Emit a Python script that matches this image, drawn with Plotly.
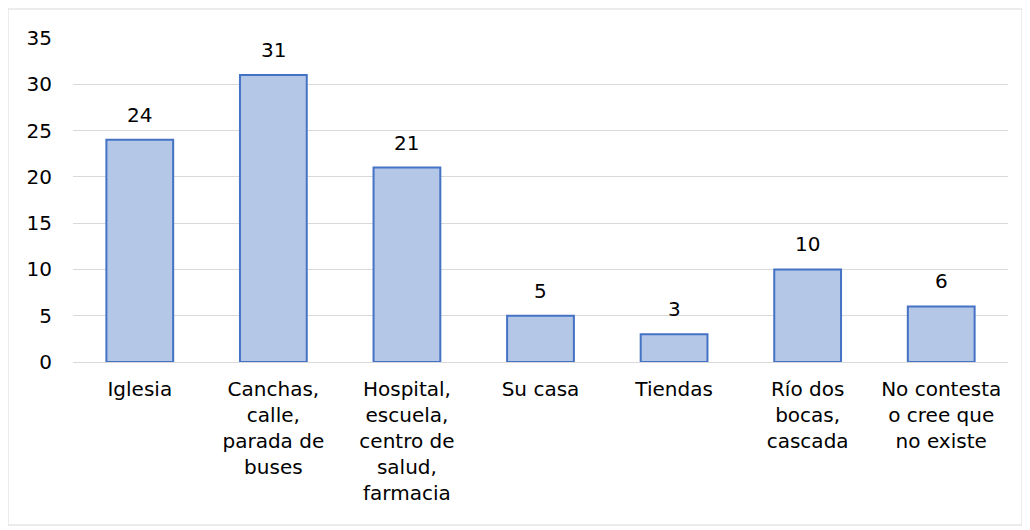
import plotly.graph_objects as go

categories = ["Iglesia", "Canchas,<br>calle,<br>parada de<br>buses", "Hospital,<br>escuela,<br>centro de<br>salud,<br>farmacia",
              "Su casa", "Tiendas", "Río dos<br>bocas,<br>cascada", "No contesta<br>o cree que<br>no existe"]
values = [24, 31, 21, 5, 3, 10, 6]

# page is rendered with an 8px body margin, so figure origin is at (8, 8)
OFF = 8
W, H = 1030 - OFF, 530 - OFF
L, R, T, B = 73 - OFF, 1030 - 1008, 38 - OFF, 530 - 362
pw, ph = W - L - R, H - T - B

font = "'DejaVu Sans', sans-serif"
fs = 20

fig = go.Figure(go.Bar(
    x=categories, y=values,
    marker=dict(color="#B4C7E7", line=dict(color="#4472C4", width=2)),
    cliponaxis=False,
))

annotations = [dict(x=c, y=v, xref="x", yref="y", text=str(v), showarrow=False,
                    yanchor="bottom", yshift=11, font=dict(size=fs, color="#000000", family=font))
               for c, v in zip(categories, values)]

def px2x(px):
    return (px - OFF - L) / pw

def py2y(py):
    return 1 - (py - OFF - T) / ph

fig.update_layout(
    width=W, height=H,
    margin=dict(l=L, r=R, t=T, b=B),
    paper_bgcolor="white", plot_bgcolor="white",
    bargap=0.5, showlegend=False,
    font=dict(family=font, size=fs, color="#000000"),
    xaxis=dict(showgrid=False, showline=True, linecolor="#D9D9D9", linewidth=1,
               ticks="", tickfont=dict(size=fs), tickangle=0, ticklabelstandoff=9),
    yaxis=dict(range=[0, 35], dtick=5, showgrid=True, gridcolor="#D9D9D9", gridwidth=1,
               zeroline=False, showline=False, ticks="", tickfont=dict(size=fs),
               ticklabelstandoff=20),
    annotations=annotations,
    shapes=[dict(type="rect", xref="paper", yref="paper",
                 x0=px2x(8), x1=px2x(1022), y0=py2y(525), y1=py2y(9),
                 line=dict(color="#D9D9D9", width=1), layer="below")],
)

fig.write_html("out.html")
